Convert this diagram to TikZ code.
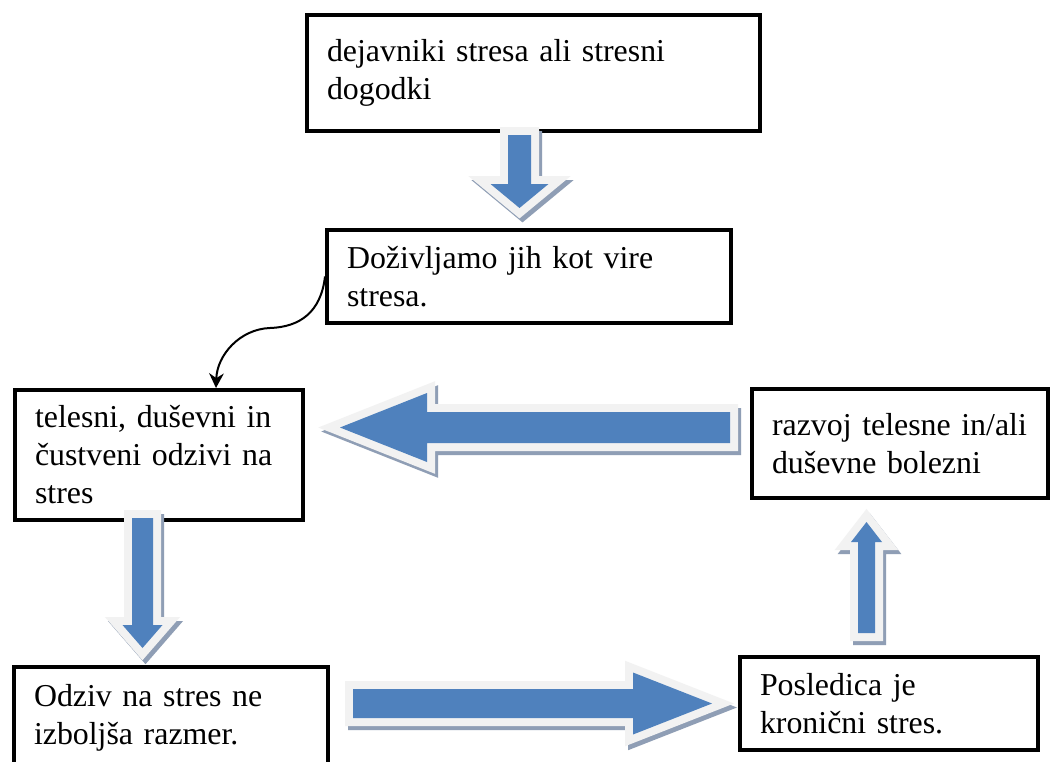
\documentclass[tikz,border=0pt]{standalone}
\usepackage{fontspec}
\setmainfont{Liberation Serif}
\usetikzlibrary{calc,arrows.meta}

\definecolor{arrblue}{RGB}{79,129,189}
\definecolor{rimgray}{RGB}{242,242,242}
\definecolor{shadowgray}{RGB}{143,158,181}

\tikzset{
    box/.style={draw, line width=3pt, fill=white, rectangle, align=left, inner xsep=15pt,
        font=\fontsize{23.9}{28.5}\selectfont},
    pics/blockarr/.style n args={4}{code={
        \path[pic actions] (0,-#2) -- (#1-#4,-#2) -- (#1-#4,-#3) -- (#1,0)
            -- (#1-#4,#3) -- (#1-#4,#2) -- (0,#2) -- cycle;}},
    arrshadow/.style={draw=shadowgray, fill=shadowgray, line width=12pt, miter limit=25},
    arrrim/.style={draw=rimgray, fill=rimgray, line width=12pt, miter limit=25},
    arrbody/.style={fill=arrblue},
    curvy/.style={line width=1.5pt, -{Stealth[length=11pt, width=11pt]}},
}

% block arrow: tail, angle, {length}{shaft}{head}{head length}
\newcommand{\blockarrow}[3]{%
    \pic[arrshadow, rotate=#2] at ($(#1)+(3,4)$) {blockarr=#3};
    \pic[arrrim, rotate=#2] at (#1) {blockarr=#3};
    \pic[arrbody, rotate=#2] at (#1) {blockarr=#3};
}

\begin{document}
\begin{tikzpicture}[x=0.75pt, y=-0.75pt]
    \useasboundingbox (0,0) rectangle (1055,761);
    \clip (0,0) rectangle (1055,761);
    \fill[white] (0,0) rectangle (1055,761);

    % Top
    \node[box, minimum width=339.75pt, minimum height=87pt, text width=309.75pt] (stressors) at (533.5,73) {dejavniki stresa ali stresni\\dogodki};
    \node[box, minimum width=303pt, minimum height=69.75pt, text width=273pt] (doziv) at (529,276.5) {Doživljamo jih kot vire\\stresa.};

    % Middle row
    \node[box, minimum width=216pt, minimum height=97.5pt, text width=186pt] (telesni) at (159,455) {telesni, duševni in\\čustveni odzivi na\\stres};
    \node[box, minimum width=222pt, minimum height=81.75pt, text width=192pt] (bolezni) at (900,443.5) {razvoj telesne in/ali\\duševne bolezni};

    % Bottom row
    \node[box, minimum width=235.5pt, minimum height=75.75pt, text width=205.5pt] (odziv) at (171,717.5) {Odziv na stres ne\\izboljša razmer.};
    \node[box, minimum width=223.5pt, minimum height=69.75pt, text width=193.5pt] (posledica) at (889,703.5) {Posledica je\\kronični stres.};

    % Connections
    \coordinate (curveend) at ($(telesni.north west)+(203,0)$);
    \draw[curvy] (doziv.west) .. controls (321,312) and (300,327) .. (270,328)
        .. controls (240,329) and (217,355) .. (curveend);

    \blockarrow{519.5,135}{-90}{{73}{11.5}{29}{24}}
    \blockarrow{730,427.5}{180}{{390}{15.5}{34.5}{87}}
    \blockarrow{142.5,518}{-90}{{130}{10.5}{20}{23}}
    \blockarrow{353,703.5}{0}{{359}{14.5}{31}{79}}
    \blockarrow{866.5,633}{90}{{111}{8.5}{15.5}{20}}
\end{tikzpicture}
\end{document}
